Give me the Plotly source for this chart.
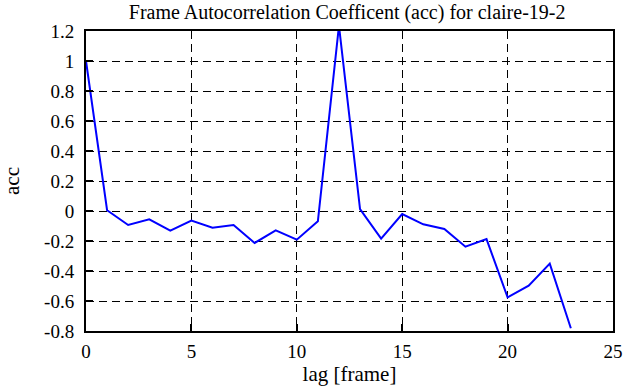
import plotly.graph_objects as go

lags = list(range(24))
acc = [1.0, 0.005, -0.093, -0.056, -0.131, -0.064, -0.111, -0.093, -0.213, -0.129,
       -0.191, -0.069, 1.235, 0.013, -0.184, -0.02, -0.089, -0.12, -0.238, -0.187,
       -0.576, -0.498, -0.351, -0.782]

x_ticks = [0, 5, 10, 15, 20, 25]
y_ticks = [-0.8, -0.6, -0.4, -0.2, 0, 0.2, 0.4, 0.6, 0.8, 1, 1.2]
y_labels = ["-0.8", "-0.6", "-0.4", "-0.2", "0", "0.2", "0.4", "0.6", "0.8", "1", "1.2"]

SERIF = "Liberation Serif"
FS_TICK = 19
FS_AXTITLE = 21
FS_TITLE = 20

fig = go.Figure()
fig.add_trace(go.Scatter(x=lags, y=acc, mode="lines", cliponaxis=False,
                         line=dict(color="#0000ff", width=2)))


def axis(**kw):
    d = dict(showline=True, linewidth=2, linecolor="black", mirror=True,
             ticks="inside", ticklen=7, tickwidth=2, tickcolor="black",
             showgrid=True, gridcolor="black", gridwidth=1, griddash="8px,5px",
             zeroline=False, automargin=False,
             tickfont=dict(family=SERIF, size=FS_TICK, color="black"))
    d.update(kw)
    return d


fig.update_layout(
    width=630, height=387,
    margin=dict(l=86, r=17, t=31, b=56, autoexpand=False),
    paper_bgcolor="white", plot_bgcolor="white",
    font=dict(family=SERIF, size=FS_TICK, color="black"), showlegend=False,
    title=dict(text="Frame Autocorrelation Coefficent (acc) for claire-19-2",
               x=0.551, xanchor="center", y=0.968, yanchor="middle",
               font=dict(family=SERIF, size=FS_TITLE, color="black")),
    xaxis=axis(range=[0, 25], tickvals=x_ticks, ticklabelstandoff=2,
               title=dict(text="lag [frame]", standoff=6,
                          font=dict(family=SERIF, size=FS_AXTITLE, color="black"))),
    yaxis=axis(range=[-0.8, 1.2], tickvals=y_ticks, ticktext=y_labels, ticklabelstandoff=6,
               title=dict(text="acc", standoff=30,
                          font=dict(family=SERIF, size=FS_AXTITLE, color="black"))),
)

fig.write_html("out.html", config={"displayModeBar": False},
               post_script="document.body.style.margin='0';")
